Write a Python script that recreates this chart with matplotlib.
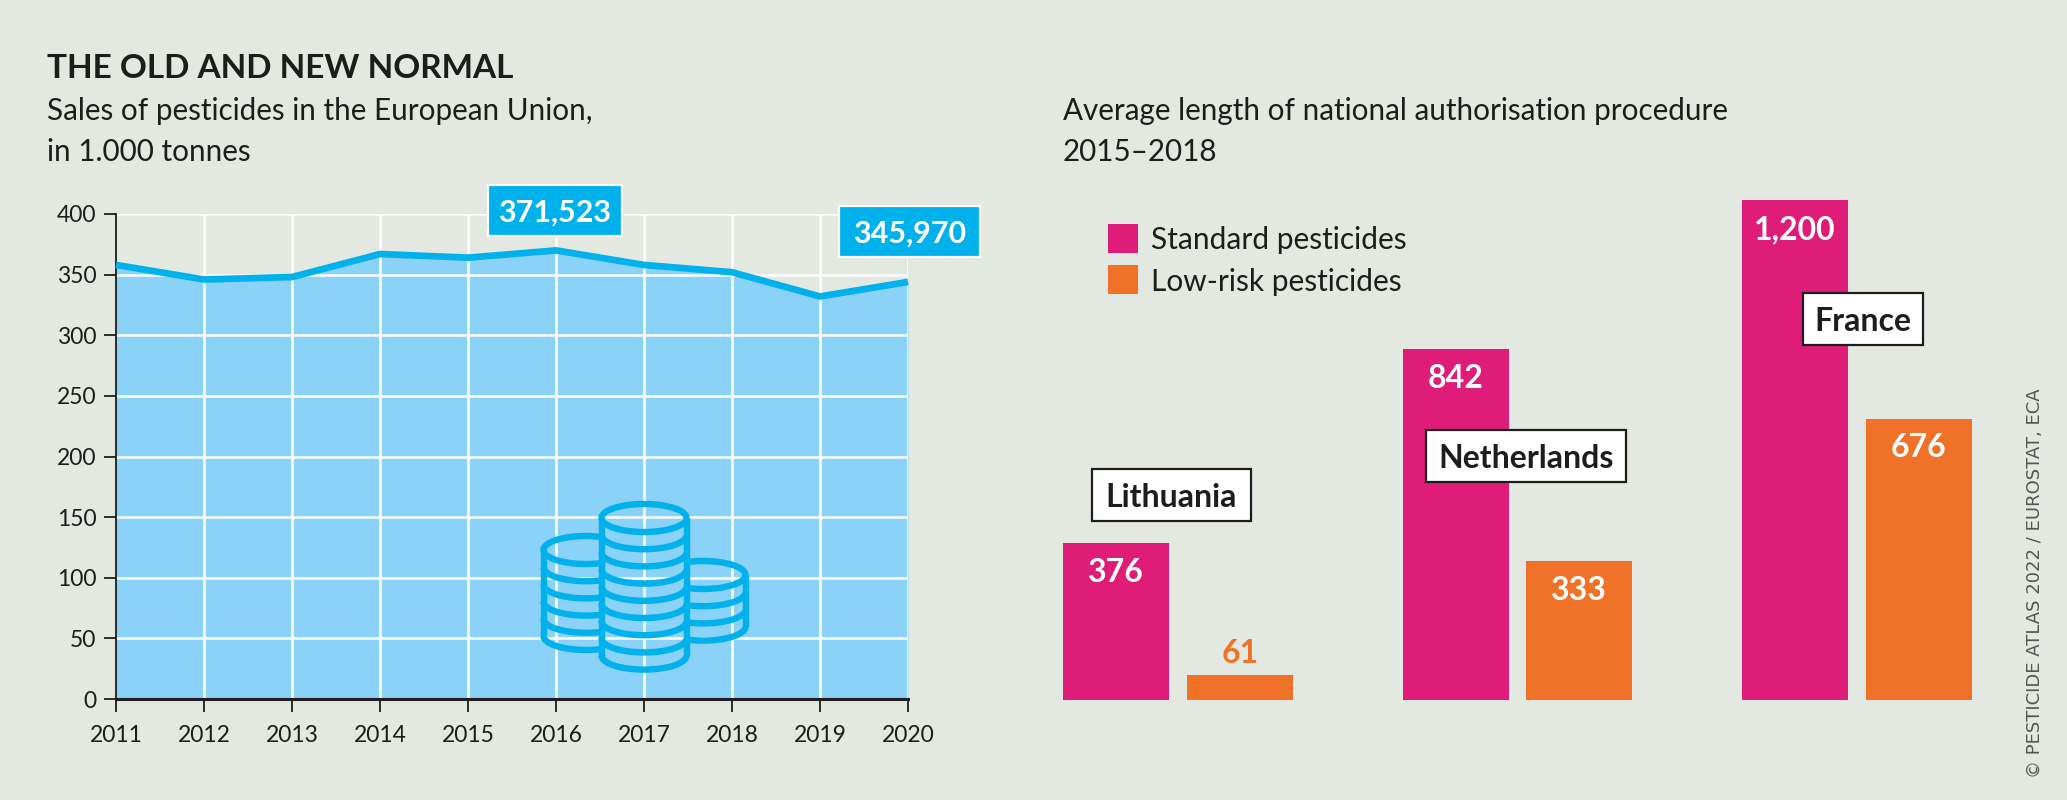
import matplotlib
matplotlib.use("Agg")
import matplotlib.pyplot as plt
from matplotlib.patches import Rectangle, Arc

plt.rcParams['font.family'] = ['Lato', 'Liberation Sans', 'DejaVu Sans']

# left chart data
years = [2011, 2012, 2013, 2014, 2015, 2016, 2017, 2018, 2019, 2020]
sales = [358, 346, 348, 367, 364, 370, 358, 352, 332, 344]
y_ticks = [0, 50, 100, 150, 200, 250, 300, 350, 400]

# right chart data
countries = ['Lithuania', 'Netherlands', 'France']
standard = [376, 842, 1200]
low_risk = [61, 333, 676]

BG = '#E3E8E1'
BLUE = '#00B1EC'
LIGHT_BLUE = '#8AD2F7'
PINK = '#E01C79'
ORANGE = '#EF7228'
INK = '#1D1D1B'

W, H = 2067, 800
fig = plt.figure(figsize=(W / 100, H / 100), dpi=100, facecolor=BG)


def axes_px(x0, y_top, x1, y_bottom):
    """axes from pixel coordinates of the picture"""
    return fig.add_axes([x0 / W, 1 - y_bottom / H, (x1 - x0) / W, (y_bottom - y_top) / H])


# sales area chart
ax = axes_px(116, 214, 908, 699)
ax.set_facecolor('none')
ax.set_xlim(years[0], years[-1])
ax.set_ylim(0, 400)
ax.fill_between(years, 0, sales, color=LIGHT_BLUE, lw=0, zorder=1)
for t in y_ticks[1:]:
    ax.axhline(t, color='white', lw=1.8, zorder=2)
for y in years[1:]:
    ax.axvline(y, color='white', lw=1.8, zorder=2)
ax.plot(years, sales, color=BLUE, lw=4.8, zorder=3, clip_on=False, solid_capstyle='butt')
ax.set_xticks(years)
ax.set_yticks(y_ticks)
ax.tick_params(axis='x', length=9, width=1.3, color=INK, labelsize=16.5, labelcolor=INK, pad=10)
ax.tick_params(axis='y', length=9, width=1.3, color=INK, labelsize=16.5, labelcolor=INK, pad=5)
for s in ['top', 'right']:
    ax.spines[s].set_visible(False)
ax.spines['left'].set_linewidth(1.3)
ax.spines['left'].set_color(INK)
ax.spines['bottom'].set_linewidth(2.2)
ax.spines['bottom'].set_color(INK)

# grouped bars, same scale for all three countries
PX_PER_GROUP = 339.5
bx = axes_px(1040, 181, 2000, 700)
bx.axis('off')
bx.set_xlim(-76 / PX_PER_GROUP, 884 / PX_PER_GROUP)
bx.set_ylim(0, 519 / 0.4163)
bar_w = 106 / PX_PER_GROUP
offset = 123.8 / PX_PER_GROUP
for i in range(len(countries)):
    bx.bar(i, standard[i], width=bar_w, color=PINK, align='center')
    bx.bar(i + offset, low_risk[i], width=bar_w, color=ORANGE, align='center')
    bx.annotate(f'{standard[i]:,}', (i, standard[i]), xytext=(0, -19), textcoords='offset points',
                ha='center', va='center_baseline', color='white', fontsize=23, fontweight='bold')
    if low_risk[i] < 100:
        bx.annotate(f'{low_risk[i]}', (i + offset, low_risk[i]), xytext=(0, 17), textcoords='offset points',
                    ha='center', va='center_baseline', color=ORANGE, fontsize=23, fontweight='bold')
    else:
        bx.annotate(f'{low_risk[i]}', (i + offset, low_risk[i]), xytext=(0, -19), textcoords='offset points',
                    ha='center', va='center_baseline', color='white', fontsize=23, fontweight='bold')

# overlay in picture pixels for icon, boxes and headings
ov = fig.add_axes([0, 0, 1, 1])
ov.set_xlim(0, W)
ov.set_ylim(H, 0)
ov.axis('off')
ov.patch.set_alpha(0)


def coin_stack(cx, top, n, clip=None):
    lw = 4.6
    w, h = 85, 28
    step = 17.2
    parts = [Arc((cx, top), w, h, theta1=0, theta2=360, color=BLUE, lw=lw)]
    for k in range(1, n):
        parts.append(Arc((cx, top + k * step), w, h, theta1=0, theta2=180, color=BLUE, lw=lw))
    bottom = top + (n - 1) * step
    for p in parts:
        ov.add_patch(p)
    l1, = ov.plot([cx - w / 2, cx - w / 2], [top, bottom], color=BLUE, lw=lw, solid_capstyle='butt')
    l2, = ov.plot([cx + w / 2, cx + w / 2], [top, bottom], color=BLUE, lw=lw, solid_capstyle='butt')
    if clip is not None:
        box = Rectangle((clip[0], 0), clip[1] - clip[0], H, transform=ov.transData)
        for p in parts + [l1, l2]:
            p.set_clip_path(box)


coin_stack(586, 550, 6, clip=(0, 601))
coin_stack(703, 575, 4, clip=(687, W))
coin_stack(644, 518, 9)

# value flags on the line
flags = [('371,523', 488, 622, 185, 236), ('345,970', 839, 980, 206, 257)]
for label, x0, x1, y0, y1 in flags:
    ov.add_patch(Rectangle((x0, y0), x1 - x0, y1 - y0, fc=BLUE, ec='white', lw=1.6))
    ov.text((x0 + x1) / 2, (y0 + y1) / 2, label, color='white', fontsize=22, fontweight='bold',
            ha='center', va='center_baseline')

# country name boxes
name_boxes = [(1092, 1251, 469, 521), (1426, 1626, 430, 482), (1803, 1923, 293, 345)]
for name, (x0, x1, y0, y1) in zip(countries, name_boxes):
    ov.add_patch(Rectangle((x0, y0), x1 - x0, y1 - y0, fc='white', ec=INK, lw=1.6))
    ov.text((x0 + x1) / 2, (y0 + y1) / 2, name, color=INK, fontsize=23, fontweight='bold',
            ha='center', va='center_baseline')

# legend
ov.add_patch(Rectangle((1108, 224), 30, 29, fc=PINK, lw=0))
ov.add_patch(Rectangle((1108, 265), 30, 29, fc=ORANGE, lw=0))
ov.text(1151, 249, 'Standard pesticides', color=INK, fontsize=21.5, va='baseline')
ov.text(1151, 291, 'Low-risk pesticides', color=INK, fontsize=21.5, va='baseline')

# headings
ov.text(47, 78, 'THE OLD AND NEW NORMAL', color=INK, fontsize=24, fontweight='bold', va='baseline')
ov.text(47, 120, 'Sales of pesticides in the European Union,', color=INK, fontsize=21.3, va='baseline')
ov.text(47, 161, 'in 1.000 tonnes', color=INK, fontsize=21.3, va='baseline')
ov.text(1063, 120, 'Average length of national authorisation procedure', color=INK, fontsize=21.3, va='baseline')
ov.text(1063, 161, '2015–2018', color=INK, fontsize=21.3, va='baseline')

# source
ov.text(2035, 778, '© PESTICIDE ATLAS 2022 / EUROSTAT, ECA', color='#555555', fontsize=13,
        rotation=90, ha='center', va='bottom', family=['DejaVu Sans'])

fig.savefig('out.png', dpi=100, facecolor=BG)
